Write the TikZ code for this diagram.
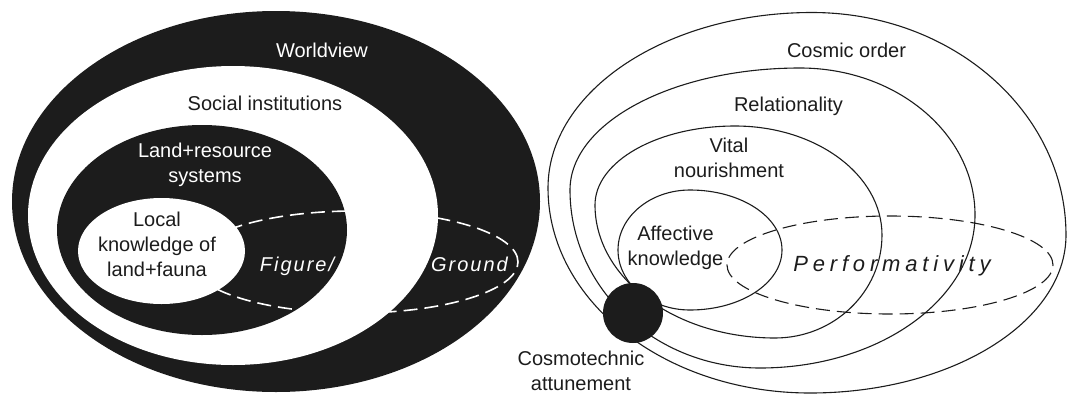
\documentclass[tikz,border=0pt]{standalone}
\usepackage{fontspec}
\setmainfont{Liberation Sans}
\newfontfamily\gapfont{Liberation Sans}[LetterSpace=10]
\newfontfamily\widefont{Liberation Sans}[LetterSpace=22]
\definecolor{ink}{RGB}{28,28,28}
% closed egg through left, top, right and bottom points
\newcommand{\eggpath}[8]{%
  (#1,#2) .. controls (#1,{#2+0.5523*(#4-#2)}) and ({#3+0.5523*(#1-#3)},#4) .. (#3,#4)
  .. controls ({#3+0.5523*(#5-#3)},#4) and (#5,{#6+0.5523*(#4-#6)}) .. (#5,#6)
  .. controls (#5,{#6+0.5523*(#8-#6)}) and ({#7+0.5523*(#5-#7)},#8) .. (#7,#8)
  .. controls ({#7+0.5523*(#1-#7)},#8) and (#1,{#2+0.5523*(#8-#2)}) .. (#1,#2) -- cycle}
\begin{document}
\begin{tikzpicture}[x=1pt,y=-1pt,
    word/.style={font=\fontsize{20}{25}\selectfont, align=center, inner sep=0pt},
    onblack/.style={word, text=white},
    onwhite/.style={word, text=ink},
    slanted/.style={font={\gapfont\itshape\fontsize{20}{25}\selectfont}},
    ring/.style={draw=ink, line width=1.1pt},
    gapline/.style={dash pattern=on 14pt off 7pt, line width=1.1pt}]
  \useasboundingbox (0,0) rectangle (1069,394);

  % Worldview
  \fill[ink] (276,201.5) ellipse [x radius=264pt, y radius=190.5pt];
  \node[onblack, anchor=base] (worldview) at (322,57) {Worldview};

  % Social institutions
  \fill[white] (233,215.5) ellipse [x radius=205pt, y radius=149.5pt];
  \node[onwhite, anchor=base] (social) at (265,110) {Social institutions};

  % Land+resource systems
  \fill[ink] (202,230) ellipse [x radius=145pt, y radius=105pt];
  \node[onblack] (land) at (205,165) {Land+resource\\systems};

  % Figure/Ground
  \draw[white, gapline, line width=1.6pt] (355,262) ellipse [x radius=163pt, y radius=51pt];
  \node[onblack, slanted, anchor=base] (figure) at (297,271) {Figure/};
  \node[onblack, slanted, anchor=base] (ground) at (469.5,271) {Ground};

  % Local knowledge
  \fill[white] (161.5,251) ellipse [x radius=83.5pt, y radius=53pt];
  \node[onwhite] (local) at (157,244) {Local\\knowledge of\\land+fauna};

  % Cosmic order
  \draw[ring] \eggpath{548}{188}{812}{12.5}{1066}{235}{810}{393};
  \node[onwhite, anchor=base] (cosmic) at (846.5,57) {Cosmic order};

  % Relationality
  \draw[ring] \eggpath{570}{190}{800}{68}{975}{215}{760}{368};
  \node[onwhite, anchor=base] (relation) at (788.5,111) {Relationality};

  % Vital nourishment
  \draw[ring] \eggpath{595}{205}{735}{126}{882}{235}{775}{338};
  \node[onwhite] (vital) at (729,158) {Vital\\nourishment};

  % Affective knowledge
  \draw[ring] \eggpath{618}{250}{690}{190}{782}{250}{690}{310};
  \node[onwhite] (affect) at (675.5,247.5) {Affective\\knowledge};

  % Performativity
  \draw[ink, gapline] (890,265) ellipse [x radius=163pt, y radius=49pt];
  \node[onwhite, font={\widefont\itshape\fontsize{22}{25}\selectfont}, anchor=base] (perform) at (892,271) {Performativity};

  % Cosmotechnic attunement
  \node[circle, fill=ink, minimum size=60pt, inner sep=0pt] (attune) at (633,313) {};
  \node[onwhite] (cosmo) at (581,370.5) {Cosmotechnic\\attunement};
\end{tikzpicture}
\end{document}
